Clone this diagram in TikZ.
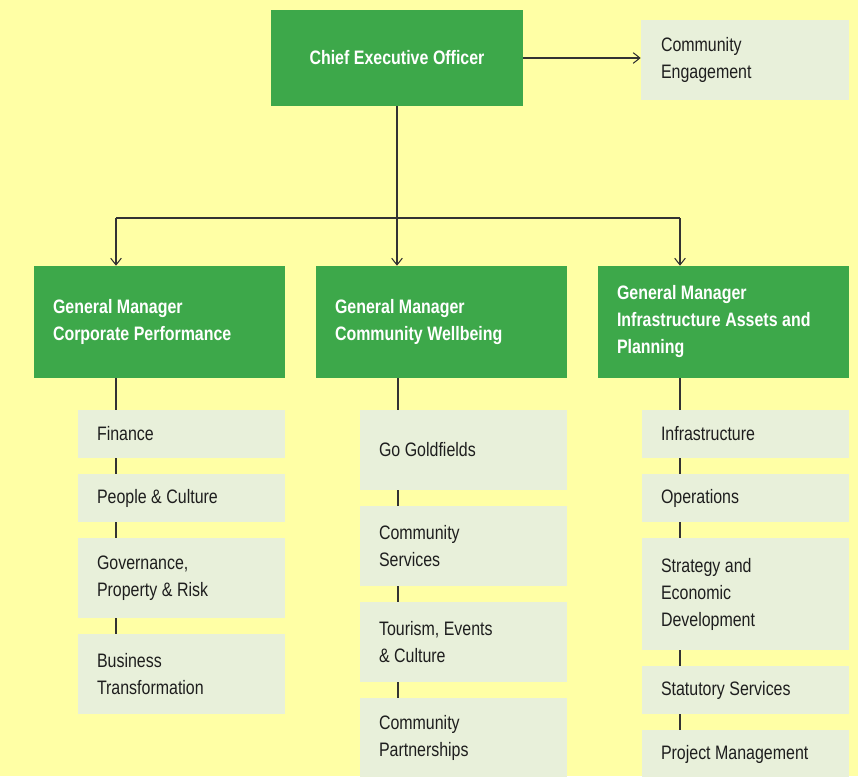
\documentclass[tikz,border=0pt]{standalone}
\usepackage{fontspec}
\setmainfont{Liberation Sans}[FakeStretch=0.82]
\usetikzlibrary{arrows.meta,backgrounds}
\definecolor{bgyellow}{RGB}{255,255,165}
\definecolor{mgreen}{RGB}{61,168,74}
\definecolor{lbox}{RGB}{232,240,218}
\definecolor{ink}{RGB}{30,30,30}
\definecolor{lineclr}{RGB}{51,51,51}
\newcommand\tightsp{\fontdimen2\font=3.4pt\fontdimen3\font=0.5pt\fontdimen4\font=0.5pt}
\tikzset{
  txt/.style={font=\fontsize{14.6pt}{20.25pt}\selectfont\tightsp},
  gbox/.style={fill=mgreen, text=white, font=\fontsize{14.6pt}{20.25pt}\selectfont\bfseries\tightsp, inner sep=0pt},
  lbx/.style={txt, fill=lbox, text=ink, inner sep=0pt},
  lft/.style={align=flush left, execute at begin node={\spaceskip=3.4pt plus 0.5pt minus 0.5pt\relax}},
  gm/.style={gbox, lft, minimum width=188.25pt, minimum height=84pt, text width=159.75pt},
  sub/.style={lbx, lft, minimum width=155.25pt, text width=126.75pt},
  h1/.style={minimum height=36pt},
  h2/.style={minimum height=60pt},
  h3/.style={minimum height=84pt},
  conn/.style={draw=lineclr, line width=0.8pt},
  arr/.style={conn, -{Straight Barb[length=5pt,width=8pt]}},
}
\begin{document}
\begin{tikzpicture}[x=0.75pt,y=-0.75pt]
\useasboundingbox (0,0) rectangle (858,776);
\clip (0,0) rectangle (858,776);

% top
\node[gbox, minimum width=189pt, minimum height=72pt] (ceo) at (397,58) {Chief Executive Officer};
\node[lbx, lft, minimum width=156pt, minimum height=60pt, text width=126pt] (ce) at (745,59.5) {Community\\Engagement};

% general managers
\node[gm] (gm1) at (159.5,322) {General Manager\\Corporate Performance};
\node[gm] (gm2) at (441.5,322) {General Manager\\Community Wellbeing};
\node[gm] (gm3) at (723.5,322) {General Manager\\Infrastructure Assets and\\Planning};

% column 1
\node[sub,h1] (fin) at (181.5,434) {Finance};
\node[sub,h1] (peo) at (181.5,498) {People \& Culture};
\node[sub,h2] (gov) at (181.5,578) {Governance,\\Property \& Risk};
\node[sub,h2] (bus) at (181.5,674) {Business\\Transformation};

% column 2
\node[sub,h2] (gog) at (463.5,450) {Go Goldfields};
\node[sub,h2] (csv) at (463.5,546) {Community\\Services};
\node[sub,h2] (tou) at (463.5,642) {Tourism, Events\\\& Culture};
\node[sub,h2] (cpa) at (463.5,738) {Community\\Partnerships};

% column 3
\node[sub,h1] (inf) at (745.5,434) {Infrastructure};
\node[sub,h1] (ops) at (745.5,498) {Operations};
\node[sub,h3] (sed) at (745.5,594) {Strategy and\\Economic\\Development};
\node[sub,h1] (sta) at (745.5,690) {Statutory Services};
\node[sub,h1] (pm) at (745.5,754) {Project Management};

% connectors
\coordinate (b1) at (116,218);
\coordinate (b3) at (680,218);
\coordinate (c2) at (398,0);
\draw[arr] (ceo.east) -- (ceo.east -| ce.west);
\draw[arr] (ceo.south) -- (ceo.south |- gm2.north);
\draw[conn] (b1) -- (b3);
\draw[arr] (b1) -- (b1 |- gm1.north);
\draw[arr] (b3) -- (b3 |- gm3.north);

\begin{pgfonlayer}{background}
  \fill[bgyellow] (0,0) rectangle (858,776);
  \draw[conn] (b1 |- gm1.south) -- (b1 |- fin.north);
  \draw[conn] (b1 |- fin.south) -- (b1 |- peo.north);
  \draw[conn] (b1 |- peo.south) -- (b1 |- gov.north);
  \draw[conn] (b1 |- gov.south) -- (b1 |- bus.north);
  \draw[conn] (c2 |- gm2.south) -- (c2 |- gog.north);
  \draw[conn] (c2 |- gog.south) -- (c2 |- csv.north);
  \draw[conn] (c2 |- csv.south) -- (c2 |- tou.north);
  \draw[conn] (c2 |- tou.south) -- (c2 |- cpa.north);
  \draw[conn] (b3 |- gm3.south) -- (b3 |- inf.north);
  \draw[conn] (b3 |- inf.south) -- (b3 |- ops.north);
  \draw[conn] (b3 |- ops.south) -- (b3 |- sed.north);
  \draw[conn] (b3 |- sed.south) -- (b3 |- sta.north);
  \draw[conn] (b3 |- sta.south) -- (b3 |- pm.north);
\end{pgfonlayer}
\end{tikzpicture}
\end{document}
